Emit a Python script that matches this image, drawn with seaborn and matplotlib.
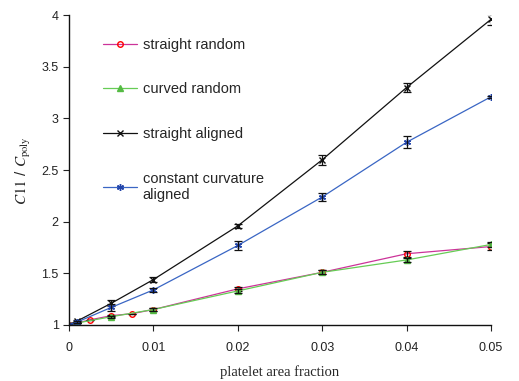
import matplotlib
matplotlib.use("Agg")
import matplotlib.pyplot as plt
import numpy as np
import pandas as pd
import seaborn as sns

# data
x_random = [0, 0.001, 0.0025, 0.005, 0.0075, 0.01, 0.02, 0.03, 0.04, 0.05]
straight_random = [1.0, 1.02, 1.05, 1.09, 1.11, 1.15, 1.35, 1.51, 1.69, 1.76]
straight_random_err = [0, 0, 0, 0.01, 0, 0.01, 0.02, 0.02, 0.03, 0.03]

x_curved = [0, 0.001, 0.005, 0.01, 0.02, 0.03, 0.04, 0.05]
curved_random = [1.0, 1.02, 1.08, 1.15, 1.33, 1.51, 1.63, 1.78]
curved_random_err = [0, 0, 0.01, 0.01, 0.02, 0.02, 0.02, 0.02]

x_aligned = [0, 0.001, 0.005, 0.01, 0.02, 0.03, 0.04, 0.05]
straight_aligned = [1.0, 1.04, 1.21, 1.44, 1.96, 2.60, 3.30, 3.96]
straight_aligned_err = [0, 0.01, 0.03, 0.02, 0.02, 0.05, 0.04, 0.05]

const_curv_aligned = [1.0, 1.03, 1.17, 1.34, 1.77, 2.24, 2.77, 3.21]
const_curv_aligned_err = [0, 0.01, 0.03, 0.02, 0.04, 0.04, 0.06, 0.01]

labels = ["straight random", "curved random", "straight aligned",
          "constant curvature\naligned"]

sns.set_style("ticks")
plt.rcParams['font.family'] = ['Liberation Sans', 'DejaVu Sans']
plt.rcParams['mathtext.fontset'] = 'stix'

fig, ax = plt.subplots(figsize=(5.19, 3.81), dpi=100)
fig.subplots_adjust(left=0.133, right=0.946, top=0.96, bottom=0.147)

series = [
    (x_random, straight_random, straight_random_err, "#cc3399", "o", "red", "none", 4),
    (x_curved, curved_random, curved_random_err, "#66cc55", "^", "#55bb44", "#55bb44", 5),
    (x_aligned, straight_aligned, straight_aligned_err, "#111111", "x", "#111111", "#111111", 4),
    (x_aligned, const_curv_aligned, const_curv_aligned_err, "#3a66c4", (6, 2, 0), "#2244aa", "#2244aa", 5),
]

for (xs, ys, es, lc, mk, mec, mfc, ms), lab in zip(series, labels):
    df = pd.DataFrame({"x": xs, "y": ys})
    sns.lineplot(data=df, x="x", y="y", ax=ax, color=lc, lw=0.9,
                 marker=mk, markersize=ms, markeredgecolor=mec,
                 markerfacecolor=mfc, markeredgewidth=1.0, label=lab)
    ax.errorbar(xs, ys, yerr=es, fmt="none", ecolor="#111111",
                elinewidth=0.9, capsize=3, capthick=0.9)

ax.set_xlim(0, 0.05)
ax.set_ylim(1, 4)
ax.set_xticks([0, 0.01, 0.02, 0.03, 0.04, 0.05])
ax.set_xticklabels(["0", "0.01", "0.02", "0.03", "0.04", "0.05"])
ax.set_yticks([1, 1.5, 2, 2.5, 3, 3.5, 4])
ax.set_yticklabels(["1", "1.5", "2", "2.5", "3", "3.5", "4"])
ax.tick_params(axis="both", labelsize=9, colors="#222222", length=4, width=0.8)
ax.tick_params(axis="x", pad=8)
sns.despine(ax=ax)
for s in ["left", "bottom"]:
    ax.spines[s].set_linewidth(1.0)
    ax.spines[s].set_color("#111111")

ax.set_xlabel("platelet area fraction", family="Liberation Serif",
              fontsize=10.5, labelpad=8)
ax.set_ylabel(r"$\mathit{C11}$ / $\mathit{C}_{\mathrm{poly}}$", fontsize=11, labelpad=6)

leg = ax.legend(loc="upper left", bbox_to_anchor=(0.05, 0.97), frameon=False,
                fontsize=10.5, labelspacing=2.1, handlelength=2.3,
                handletextpad=0.4)

fig.savefig("out.png", dpi=100)
